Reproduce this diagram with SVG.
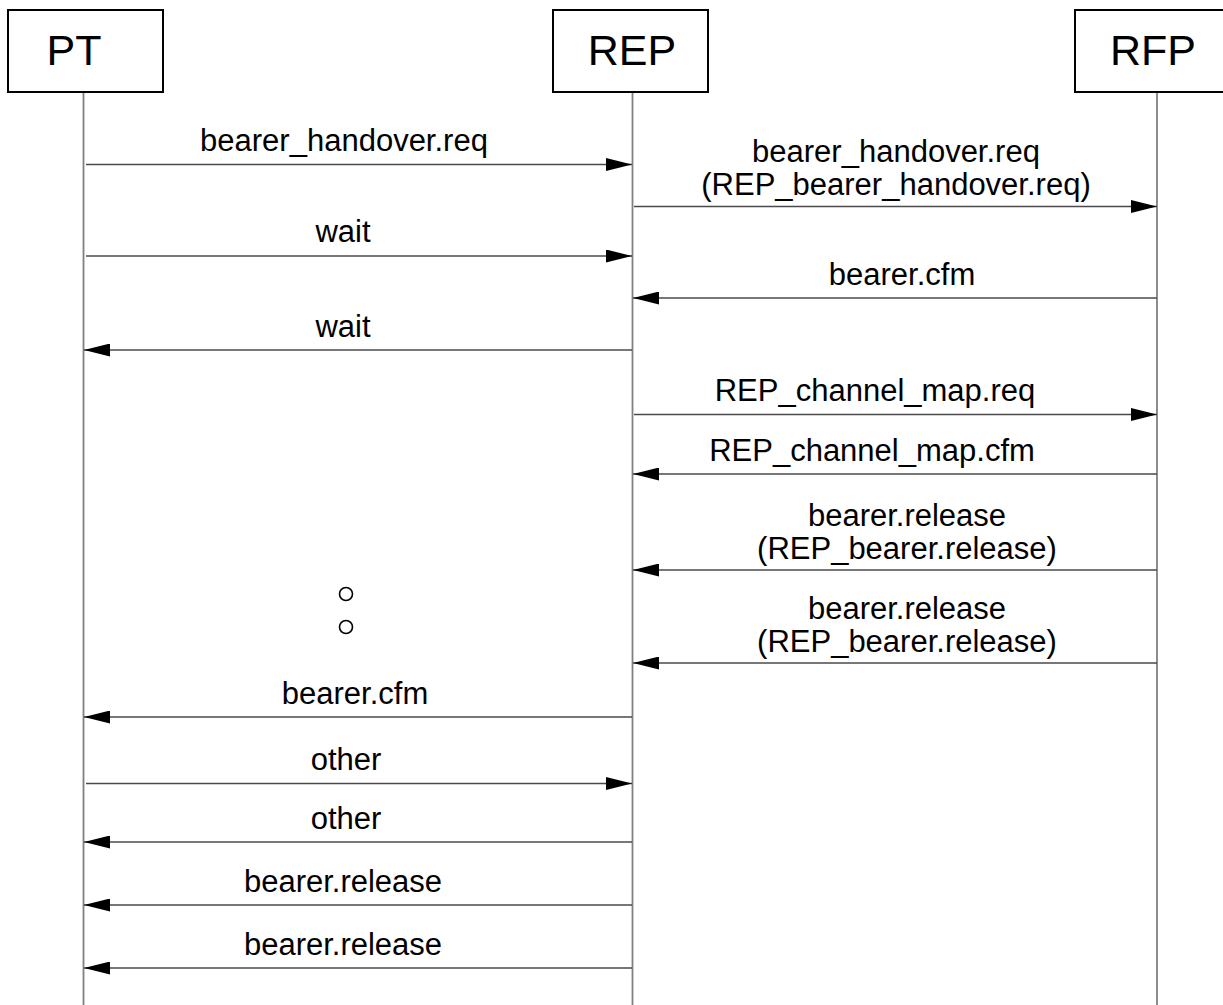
<svg xmlns="http://www.w3.org/2000/svg" width="1223" height="1005" viewBox="0 0 1223 1005">
<style>
.box{fill:#fff;stroke:#000;stroke-width:2}
.hdr{font-family:"Liberation Sans",Arial,sans-serif;font-size:43px;text-anchor:middle;fill:#000}
.life{stroke:#808080;stroke-width:1.8;fill:none}
.msg{stroke:#4a4a4a;stroke-width:1.4;fill:none;marker-end:url(#ah)}
.lbl{font-family:"Liberation Sans",Arial,sans-serif;font-size:31px;text-anchor:middle;fill:#000}
.dot{fill:none;stroke:#000;stroke-width:1.6}
</style>
<defs>
<marker id="ah" markerUnits="userSpaceOnUse" markerWidth="26" markerHeight="13" refX="26" refY="6.5" orient="auto">
<path d="M0,0 L26,6.5 L0,13 z" fill="#000"/>
</marker>
</defs>
<rect width="1223" height="1005" fill="#fff"/>
<g id="PT">
<line class="life" x1="83.5" y1="93" x2="83.5" y2="1005"/>
<rect class="box" x="8" y="10" width="155" height="82"/>
<text class="hdr" x="74" y="65">PT</text>
</g>
<g id="REP">
<line class="life" x1="632.5" y1="93" x2="632.5" y2="1005"/>
<rect class="box" x="553" y="10" width="155" height="82"/>
<text class="hdr" x="632" y="65">REP</text>
</g>
<g id="RFP">
<line class="life" x1="1157" y1="93" x2="1157" y2="1005"/>
<rect class="box" x="1075" y="10" width="160" height="82"/>
<text class="hdr" x="1153" y="65">RFP</text>
</g>
<g id="connectors">
<line class="msg" x1="86" y1="164.5" x2="632" y2="164.5"/>
<line class="msg" x1="634" y1="206.5" x2="1157" y2="206.5"/>
<line class="msg" x1="86" y1="256" x2="632" y2="256"/>
<line class="msg" x1="1157" y1="298" x2="633" y2="298"/>
<line class="msg" x1="632" y1="350" x2="84" y2="350"/>
<line class="msg" x1="634" y1="414.5" x2="1157" y2="414.5"/>
<line class="msg" x1="1157" y1="474" x2="633" y2="474"/>
<line class="msg" x1="1157" y1="570" x2="633" y2="570"/>
<line class="msg" x1="1157" y1="663" x2="633" y2="663"/>
<line class="msg" x1="632" y1="717" x2="84" y2="717"/>
<line class="msg" x1="86" y1="783.5" x2="632" y2="783.5"/>
<line class="msg" x1="632" y1="842" x2="84" y2="842"/>
<line class="msg" x1="632" y1="905" x2="84" y2="905"/>
<line class="msg" x1="632" y1="968" x2="84" y2="968"/>
</g>
<g id="labels">
<text class="lbl" x="344" y="151">bearer_handover.req</text>
<text class="lbl" x="896" y="162">bearer_handover.req</text>
<text class="lbl" x="896" y="195">(REP_bearer_handover.req)</text>
<text class="lbl" x="343" y="242">wait</text>
<text class="lbl" x="902" y="285">bearer.cfm</text>
<text class="lbl" x="343" y="337">wait</text>
<text class="lbl" x="875" y="401">REP_channel_map.req</text>
<text class="lbl" x="872" y="461">REP_channel_map.cfm</text>
<text class="lbl" x="907" y="526">bearer.release</text>
<text class="lbl" x="907" y="559">(REP_bearer.release)</text>
<text class="lbl" x="907" y="619">bearer.release</text>
<text class="lbl" x="907" y="652">(REP_bearer.release)</text>
<text class="lbl" x="355" y="704">bearer.cfm</text>
<text class="lbl" x="346" y="770">other</text>
<text class="lbl" x="346" y="829">other</text>
<text class="lbl" x="343" y="892">bearer.release</text>
<text class="lbl" x="343" y="955">bearer.release</text>
</g>
<g id="ellipsis">
<circle class="dot" cx="346" cy="594" r="6.5"/>
<circle class="dot" cx="346" cy="627" r="6.5"/>
</g>
</svg>
